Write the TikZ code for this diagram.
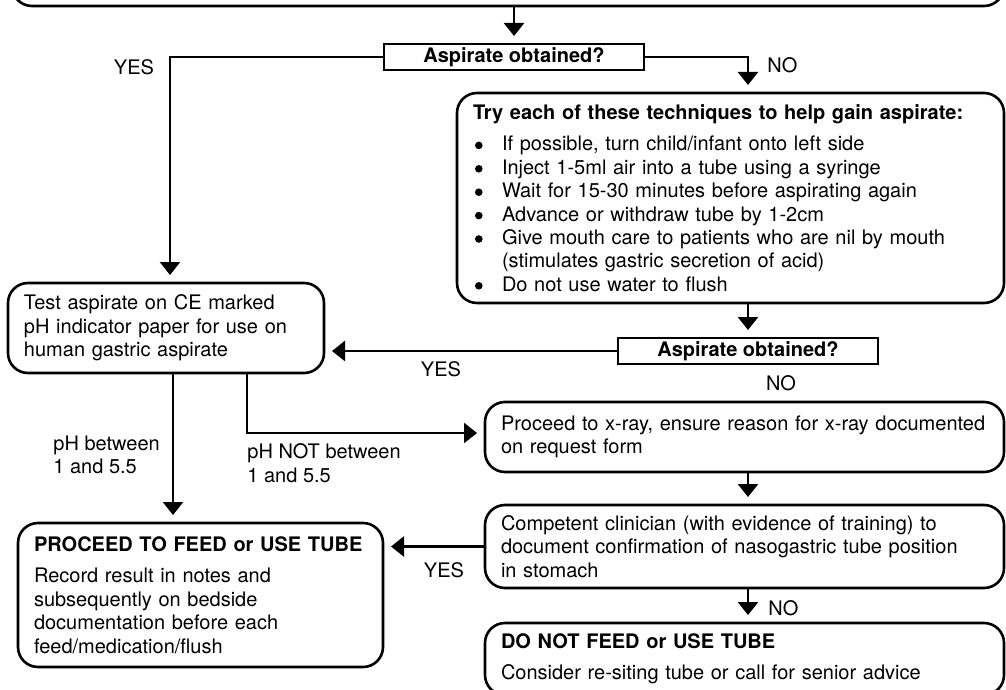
\documentclass[tikz,border=0pt]{standalone}
\usepackage{fontspec}
\setmainfont{TeX Gyre Heros}
\usetikzlibrary{arrows.meta, positioning, calc}
\newcommand{\flowfont}{\fontsize{10}{11.7}\selectfont}
\newcommand{\itemdot}{\makebox[14.5pt][l]{\hspace{1pt}\tikz[baseline=-2.7pt]\fill (0,0) circle (1.9pt);}}
\tikzset{
    % Boxes
    flowbox/.style={
        draw, line width=1.3pt, rounded corners=10pt,
        align=left, inner xsep=8pt, inner ysep=0pt, outer sep=0pt,
        anchor=north west
    },
    askbox/.style={
        draw, line width=1pt, font=\flowfont\bfseries,
        minimum width=130pt, minimum height=13pt, inner sep=0pt, outer sep=0pt
    },
    % Arrows
    myarrow/.style={-{Triangle[width=10pt, length=6.5pt]}, line width=1.3pt, shorten >=4pt},
    % Labels
    branchlabel/.style={inner sep=0pt, align=left},
}

\begin{document}
\begin{tikzpicture}[x=0.5pt, y=-0.5pt, every node/.style={font=\flowfont}]
\useasboundingbox (0,0) rectangle (1006,690);

% ===== First check =====
\node (top) [flowbox, anchor=south west, minimum width=496pt, minimum height=40pt] at (12,6) {};
\node (ask1) [askbox] at (514,57) {Aspirate obtained?};

\draw[myarrow] (top.south -| ask1) -- (ask1);

\node (tech) [flowbox, text width=257.5pt, minimum height=105pt] at (457,93) {
    \textbf{Try each of these techniques to help gain aspirate:}\\[4pt]
    \itemdot If possible, turn child/infant onto left side\\
    \itemdot Inject 1-5ml air into a tube using a syringe\\
    \itemdot Wait for 15-30 minutes before aspirating again\\
    \itemdot Advance or withdraw tube by 1-2cm\\
    \itemdot Give mouth care to patients who are nil by mouth\\
    \hspace*{14.5pt}(stimulates gastric secretion of acid)\\
    \itemdot Do not use water to flush
};

\node (test) [flowbox, text width=142pt, minimum height=45pt] at (8,283) {
    Test aspirate on CE marked\\
    pH indicator paper for use on\\
    human gastric aspirate
};

% ===== Second check =====
\node (ask2) [askbox] at (748,351) {Aspirate obtained?};

\draw[myarrow] (ask1.west) -| ([xshift=2pt]test.north);
\draw[myarrow] (ask1.east) -| (ask2 |- tech.north);
\node[branchlabel] (yes1) at (134,67) {YES};
\node[branchlabel, anchor=west] (no1) at (767,65) {NO};

\draw[myarrow] (ask2 |- tech.south) -- (ask2);
\draw[myarrow] (ask2) -- (test.east |- ask2);
\node[branchlabel] (yes2) at (441,369) {YES};
\node[branchlabel] (no2) at (781,383) {NO};

% ===== pH result =====
\node (xray) [flowbox, text width=243.5pt, minimum height=35pt] at (485,402) {
    Proceed to x-ray, ensure reason for x-ray documented\\
    on request form
};

\node (clin) [flowbox, text width=243.5pt, minimum height=41.5pt] at (485,505) {
    Competent clinician (with evidence of training) to\\
    document confirmation of nasogastric tube position\\
    in stomach
};

\node (feed) [flowbox, text width=166.5pt, minimum height=72pt] at (18,523) {
    \textbf{PROCEED TO FEED or USE TUBE}\\[4pt]
    Record result in notes and\\
    subsequently on bedside\\
    documentation before each\\
    feed/medication/flush
};

\node (stop) [flowbox, text width=243.5pt, minimum height=36pt] at (485,623) {
    \textbf{DO NOT FEED or USE TUBE}\\[4pt]
    Consider re-siting tube or call for senior advice
};

\draw[myarrow] ([xshift=3.5pt]test.south) -- ([xshift=3.5pt]test.south |- feed.north);
\draw[myarrow] ([xshift=40.5pt]test.south) |- ([yshift=2pt]xray.west);
\node[branchlabel, anchor=west] (phin) at (53,455) {pH between\\1 and 5.5};
\node[branchlabel, anchor=west] (phout) at (247,463) {pH NOT between\\1 and 5.5};

\draw[myarrow] (ask2 |- xray.south) -- (ask2 |- clin.north);
\draw[myarrow] (clin.west) -- (feed.east |- clin.west);
\draw[myarrow] (ask2 |- clin.south) -- (ask2 |- stop.north);
\node[branchlabel] (yes3) at (444,570) {YES};
\node[branchlabel, anchor=west] (no3) at (768,608) {NO};

\end{tikzpicture}
\end{document}
